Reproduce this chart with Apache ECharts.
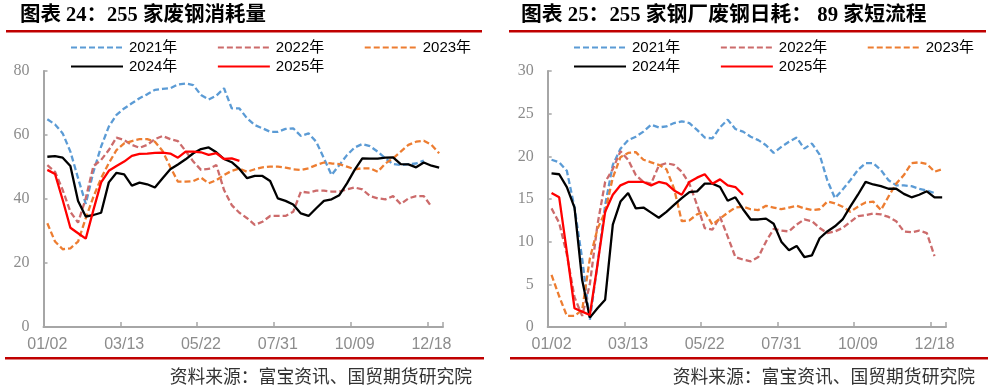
<!DOCTYPE html>
<html>
<head>
<meta charset="utf-8">
<script src="https://cdn.jsdelivr.net/npm/echarts@6/dist/echarts.min.js"></script>
<style>
html,body{margin:0;padding:0;background:#fff;}
#c{width:991px;height:391px;}
</style>
</head>
<body>
<div id="c"></div>
<script>
// Weekly categories (52 weeks)
const categories = ["01/02","01/09","01/16","01/23","01/30","02/06","02/13","02/20","02/27","03/06",
"03/13","03/20","03/27","04/03","04/10","04/17","04/24","05/01","05/08","05/15",
"05/22","05/29","06/05","06/12","06/19","06/26","07/03","07/10","07/17","07/24",
"07/31","08/07","08/14","08/21","08/28","09/04","09/11","09/18","09/25","10/02",
"10/09","10/16","10/23","10/30","11/06","11/13","11/20","11/27","12/04","12/11",
"12/18","12/25"];

const seriesNames = ["2021年","2022年","2023年","2024年","2025年"];

// Left panel: 255家废钢消耗量
const L2021 = [64.9,63.3,60.5,54.8,46.5,38.5,48.5,56.4,62.6,66.3,68.3,69.9,71.5,72.7,74.1,74.4,74.6,75.8,76.1,75.6,72.5,71.1,72.3,74.6,68.3,68.3,65.2,63.1,62.1,61.0,61.0,61.9,62.1,59.7,60.5,57.9,52.7,47.5,50.6,53.7,56.1,57.2,56.5,54.8,52.7,50.9,50.6,50.9,51.1,52.0];
const L2022 = [50.6,48.5,42.8,36.0,32.6,40.2,50.3,52.2,55.3,59.2,58.4,56.9,56.0,56.9,58.7,59.7,58.7,58.1,55.0,51.7,49.1,49.4,50.6,42.8,38.1,35.7,34.0,31.9,32.9,34.7,34.7,34.7,36.0,42.3,42.0,42.6,42.6,42.3,42.3,43.0,43.6,43.0,40.9,40.2,39.9,40.9,38.4,40.2,40.9,40.9,37.6];
const L2023 = [32.4,26.7,24.3,24.6,26.7,34.0,40.7,46.5,51.2,55.3,57.4,58.1,58.7,58.7,57.9,55.0,50.0,45.4,45.4,45.6,46.7,44.9,45.9,47.5,48.8,49.5,48.5,49.3,49.9,50.1,50.1,49.8,49.3,49.1,49.6,50.6,51.4,51.1,50.9,50.1,49.3,49.6,49.6,48.5,51.1,52.7,54.8,56.9,57.9,58.2,56.9,54.3];
const L2024 = [53.2,53.4,52.9,50.3,39.4,34.5,35.0,35.7,45.2,48.2,47.7,44.2,45.1,44.6,43.6,46.5,49.3,50.8,52.4,54.3,55.6,56.1,54.6,52.5,51.5,49.4,46.5,47.2,47.2,45.6,40.2,39.4,38.3,35.5,34.7,37.1,39.4,39.9,41.2,44.9,49.1,52.7,52.6,52.6,52.9,53.0,50.9,50.8,49.9,51.4,50.4,49.8];
const L2025 = [49.1,47.8,39.7,31.0,29.3,27.6,36.6,45.2,48.8,50.3,51.7,53.5,54.1,54.2,54.4,54.5,54.2,52.9,54.8,54.8,54.6,53.8,54.3,52.5,52.7,51.9];

// Right panel: 89家短流程废钢日耗
const R2021 = [19.6,19.3,18.3,14.0,8.0,0.8,7.3,14.3,19.0,20.9,21.9,22.3,22.9,23.7,23.4,23.5,23.9,24.1,23.9,23.1,22.2,22.1,23.4,24.3,23.2,22.9,22.3,21.9,21.3,20.4,21.1,21.7,22.2,20.9,21.5,20.2,17.2,15.1,16.1,17.2,18.4,19.2,19.2,18.4,17.2,16.6,16.6,16.5,16.2,16.0,15.7];
const R2022 = [13.9,12.2,8.5,3.5,1.3,5.0,12.0,17.0,18.5,20.6,19.6,17.8,17.0,16.8,18.9,19.2,19.0,18.2,16.8,14.3,11.6,11.4,12.9,10.6,8.2,7.9,7.7,8.2,10.0,11.5,11.3,11.2,12.0,12.6,12.4,11.6,11.0,11.2,11.6,12.3,13.0,13.1,13.3,13.2,12.9,12.4,11.2,11.1,11.3,11.0,8.3];
const R2023 = [6.1,3.6,1.3,1.3,2.0,8.0,11.5,13.5,17.5,19.9,20.4,20.5,19.6,19.3,19.0,18.5,16.2,12.4,12.5,13.2,13.5,12.0,12.7,13.4,14.0,14.1,13.8,13.7,14.2,14.0,13.8,14.0,14.2,13.9,13.7,13.8,14.7,14.5,14.1,13.5,14.1,14.6,14.7,13.7,15.3,16.8,17.8,19.2,19.3,19.1,18.2,18.5];
const R2024 = [18.0,17.9,16.4,14.0,5.5,1.1,2.2,3.2,12.0,14.7,15.7,13.9,14.0,13.4,12.8,13.5,14.3,15.1,15.8,15.9,16.8,16.8,16.4,14.8,15.2,13.8,12.6,12.6,12.7,12.1,10.0,9.0,9.5,8.2,8.4,10.4,11.2,11.8,12.6,14.1,15.5,17.0,16.7,16.5,16.2,16.2,15.6,15.2,15.5,15.9,15.2,15.2];
const R2025 = [15.7,15.2,8.8,2.2,1.8,1.4,7.3,13.5,15.5,16.6,17.0,17.0,17.0,16.6,17.0,16.8,16.0,15.5,17.0,17.5,17.9,16.8,17.3,16.6,16.4,15.5];

const leftTicks = {min:0, max:80, interval:20};
const rightTicks = {min:0, max:30, interval:5};

const colors = ["#5B9BD5","#CC6B6B","#ED7D31","#000000","#FF0000"];
const dashed = [true,true,true,false,false];

const chart = echarts.init(document.getElementById('c'), null, {renderer:'canvas'});

const axisGray = '#A6A6A6';
const labelGray = '#8C8C8C';

function mkSeries(name, data, idx, axisIdx){
  return {
    name: name, type:'line', data: data,
    xAxisIndex: axisIdx, yAxisIndex: axisIdx,
    symbol:'none', showSymbol:false, smooth:false,
    lineStyle:{color: colors[idx], width: 2.3, type: dashed[idx] ? [6,3] : 'solid'},
    itemStyle:{color: colors[idx]},
    z: 2 + idx,
    animation:false
  };
}

const leftData = [L2021,L2022,L2023,L2024,L2025];
const rightData = [R2021,R2022,R2023,R2024,R2025];
const series = [];
seriesNames.forEach((n,i)=>series.push(mkSeries(n,leftData[i],i,0)));
seriesNames.forEach((n,i)=>series.push(mkSeries(n,rightData[i],i,1)));

function xAx(gi){
  return {
    type:'category', gridIndex: gi, data: categories, boundaryGap:true,
    axisLine:{show:true, lineStyle:{color:axisGray, width:2}},
    axisTick:{show:true, inside:true, length:5, interval:9, lineStyle:{color:axisGray, width:1.5}},
    axisLabel:{interval:9, color:labelGray, fontSize:16, margin:10, fontFamily:'"Liberation Sans", Arial, sans-serif'},
    splitLine:{show:false}
  };
}
function yAx(gi, t){
  return {
    type:'value', gridIndex: gi, min:t.min, max:t.max, interval:t.interval,
    axisLine:{show:true, lineStyle:{color:axisGray, width:2}},
    axisTick:{show:true, inside:true, length:4, lineStyle:{color:axisGray, width:1.5}},
    axisLabel:{color:labelGray, fontSize:16, margin:14, fontFamily:'"Liberation Serif", "Times New Roman", serif'},
    splitLine:{show:false}
  };
}

function legend(left, top, names){
  return {
    left:left, top:top, orient:'horizontal', padding:0,
    itemWidth:52, itemHeight:12, itemGap:39.5,
    data: names, selectedMode:false,
    itemStyle:{opacity:0, borderWidth:0},
    textStyle:{color:'#000', fontSize:15, fontFamily:'"Liberation Sans", Arial, "Noto Sans CJK SC", sans-serif', padding:[0,0,0,1]}
  };
}

const titleFont = '"Liberation Serif", "Noto Sans CJK SC", serif';
const srcFont = '"Noto Sans CJK SC", sans-serif';

const option = {
  animation:false,
  backgroundColor:'#fff',
  grid:[
    {left:43.5, top:71, width:399.5, height:256, containLabel:false},
    {left:547.7, top:71, width:398.3, height:256, containLabel:false}
  ],
  xAxis:[xAx(0), xAx(1)],
  yAxis:[yAx(0,leftTicks), yAx(1,rightTicks)],
  legend:[
    legend(70, 40, ["2021年","2022年","2023年"]),
    legend(70, 59, ["2024年","2025年"]),
    legend(573, 40, ["2021年","2022年","2023年"]),
    legend(573, 59, ["2024年","2025年"])
  ],
  graphic:[
    {type:'text', left:20, top:5, style:{text:'图表 24：255 家废钢消耗量', font:'bold 20.5px ' + titleFont, fill:'#000'}},
    {type:'text', left:521, top:5, style:{text:'图表 25：255 家钢厂废钢日耗： 89 家短流程', font:'bold 20.8px ' + titleFont, fill:'#000'}},
    {type:'rect', shape:{x:6, y:30, width:476, height:2.5}, style:{fill:'#C00000'}},
    {type:'rect', shape:{x:509, y:30, width:477, height:2.5}, style:{fill:'#C00000'}},
    {type:'rect', shape:{x:5, y:357, width:479, height:2.5}, style:{fill:'#C00000'}},
    {type:'rect', shape:{x:510, y:357, width:478, height:2.5}, style:{fill:'#C00000'}},
    {type:'text', right:991-472, top:367, style:{text:'资料来源：富宝资讯、国贸期货研究院', font:'17.8px ' + srcFont, fill:'#333', textAlign:'right'}},
    {type:'text', right:991-975, top:367, style:{text:'资料来源：富宝资讯、国贸期货研究院', font:'17.8px ' + srcFont, fill:'#333', textAlign:'right'}}
  ],
  series: series
};
chart.setOption(option);
</script>
</body>
</html>
